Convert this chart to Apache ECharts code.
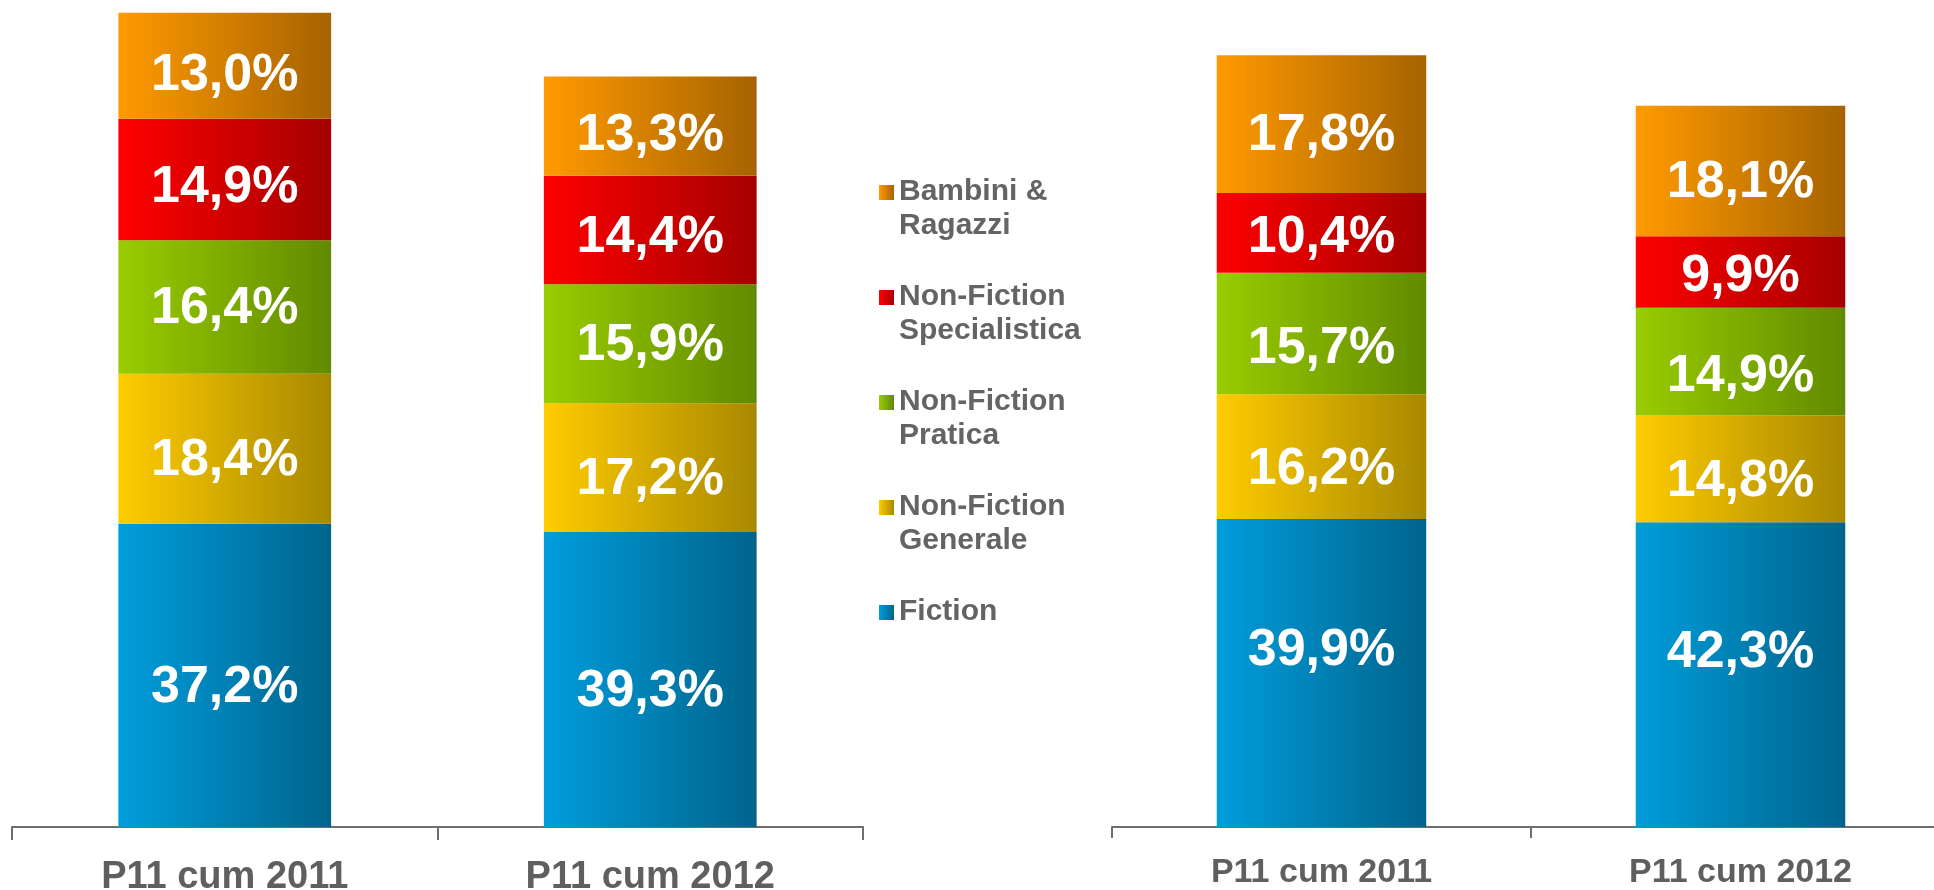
<!DOCTYPE html>
<html>
<head>
<meta charset="utf-8">
<script src="https://cdn.jsdelivr.net/npm/echarts@6/dist/echarts.min.js"></script>
<style>
  html, body { margin: 0; padding: 0; background: #fff; }
  #chart { width: 1934px; height: 890px; }
</style>
</head>
<body>
<div id="chart"></div>
<script>
// categorie
var categories = ['P11 cum 2011', 'P11 cum 2012'];
var seriesNames = ['Fiction', 'Non-Fiction Generale', 'Non-Fiction Pratica', 'Non-Fiction Specialistica', 'Bambini & Ragazzi'];
var legendText = {
    'Bambini & Ragazzi': 'Bambini &\nRagazzi',
    'Non-Fiction Specialistica': 'Non-Fiction\nSpecialistica',
    'Non-Fiction Pratica': 'Non-Fiction\nPratica',
    'Non-Fiction Generale': 'Non-Fiction\nGenerale',
    'Fiction': 'Fiction\n '
};

// grafico sinistro (altezze stimate, 2011 = 100)
var fictionLeft = [37.2, 36.2];
var generaleLeft = [18.4, 15.8];
var praticaLeft = [16.4, 14.6];
var specLeft = [14.9, 13.3];
var bambiniLeft = [13.0, 12.2];
// etichette %
var fictionLeftLbl = ['37,2%', '39,3%'];
var generaleLeftLbl = ['18,4%', '17,2%'];
var praticaLeftLbl = ['16,4%', '15,9%'];
var specLeftLbl = ['14,9%', '14,4%'];
var bambiniLeftLbl = ['13,0%', '13,3%'];

// grafico destro
var fictionRight = [37.8, 37.4];
var generaleRight = [15.3, 13.1];
var praticaRight = [14.9, 13.2];
var specRight = [9.8, 8.8];
var bambiniRight = [16.9, 16.0];
var fictionRightLbl = ['39,9%', '42,3%'];
var generaleRightLbl = ['16,2%', '14,8%'];
var praticaRightLbl = ['15,7%', '14,9%'];
var specRightLbl = ['10,4%', '9,9%'];
var bambiniRightLbl = ['17,8%', '18,1%'];

var colors = [
    ['#009DDC', '#00648C'],
    ['#FFCC00', '#A88800'],
    ['#99CC00', '#628A00'],
    ['#FF0000', '#A50000'],
    ['#FF9A00', '#A66300']
];

function grad(c) {
    return new echarts.graphic.LinearGradient(0, 0, 1, 0, [
        { offset: 0, color: c[0] },
        { offset: 1, color: c[1] }
    ]);
}

function makeSeries(idx, name, values, labels, axis, stack, dy) {
    return {
        name: name,
        type: 'bar',
        stack: stack,
        xAxisIndex: axis,
        yAxisIndex: axis,
        barWidth: '50%',
        itemStyle: { color: grad(colors[idx]) },
        label: {
            show: true,
            position: 'inside',
            color: '#fff',
            fontFamily: 'Liberation Sans',
            fontWeight: 'bold',
            fontSize: 52,
            offset: [0, dy],
            formatter: function (p) { return labels[p.dataIndex]; }
        },
        data: values
    };
}

var myChart = echarts.init(document.getElementById('chart'));

function xAx(grid, fs, margin, tick) {
    return {
        type: 'category',
        gridIndex: grid,
        data: categories,
        axisLine: { lineStyle: { color: '#6E6E6E', width: 2 } },
        axisTick: { show: true, length: tick, lineStyle: { color: '#6E6E6E', width: 2 } },
        axisLabel: {
            margin: margin,
            color: '#5F5F5F',
            fontFamily: 'Liberation Sans',
            fontWeight: 'bold',
            fontSize: fs
        }
    };
}

var option = {
    animation: false,
    legend: {
        orient: 'vertical',
        left: 879,
        top: 175,
        padding: 0,
        itemGap: 37,
        itemWidth: 15,
        itemHeight: 48,
        icon: 'path://M0,0h15v15h-15zM0,48',
        data: ['Bambini & Ragazzi', 'Non-Fiction Specialistica', 'Non-Fiction Pratica', 'Non-Fiction Generale', 'Fiction'],
        formatter: function (n) { return legendText[n]; },
        textStyle: {
            color: '#646464',
            fontFamily: 'Liberation Sans',
            fontWeight: 'bold',
            fontSize: 30,
            lineHeight: 34
        }
    },
    grid: [
        { left: 12, width: 851, top: 12, bottom: 63, containLabel: false, outerBoundsMode: 'none' },
        { left: 1112, width: 838, top: 12, bottom: 63, containLabel: false, outerBoundsMode: 'none' }
    ],
    xAxis: [xAx(0, 38, 32, 13), xAx(1, 34, 29, 11)],
    yAxis: [
        { type: 'value', gridIndex: 0, min: 0, max: 100, show: false },
        { type: 'value', gridIndex: 1, min: 0, max: 100, show: false }
    ],
    series: [
        makeSeries(0, seriesNames[0], fictionLeft, fictionLeftLbl, 0, 'L', 12),
        makeSeries(1, seriesNames[1], generaleLeft, generaleLeftLbl, 0, 'L', 12),
        makeSeries(2, seriesNames[2], praticaLeft, praticaLeftLbl, 0, 'L', 2),
        makeSeries(3, seriesNames[3], specLeft, specLeftLbl, 0, 'L', 8),
        makeSeries(4, seriesNames[4], bambiniLeft, bambiniLeftLbl, 0, 'L', 10),
        makeSeries(0, seriesNames[0], fictionRight, fictionRightLbl, 1, 'R', -22),
        makeSeries(1, seriesNames[1], generaleRight, generaleRightLbl, 1, 'R', 13),
        makeSeries(2, seriesNames[2], praticaRight, praticaRightLbl, 1, 'R', 15),
        makeSeries(3, seriesNames[3], specRight, specRightLbl, 1, 'R', 5),
        makeSeries(4, seriesNames[4], bambiniRight, bambiniRightLbl, 1, 'R', 12)
    ]
};
myChart.setOption(option);
</script>
</body>
</html>
